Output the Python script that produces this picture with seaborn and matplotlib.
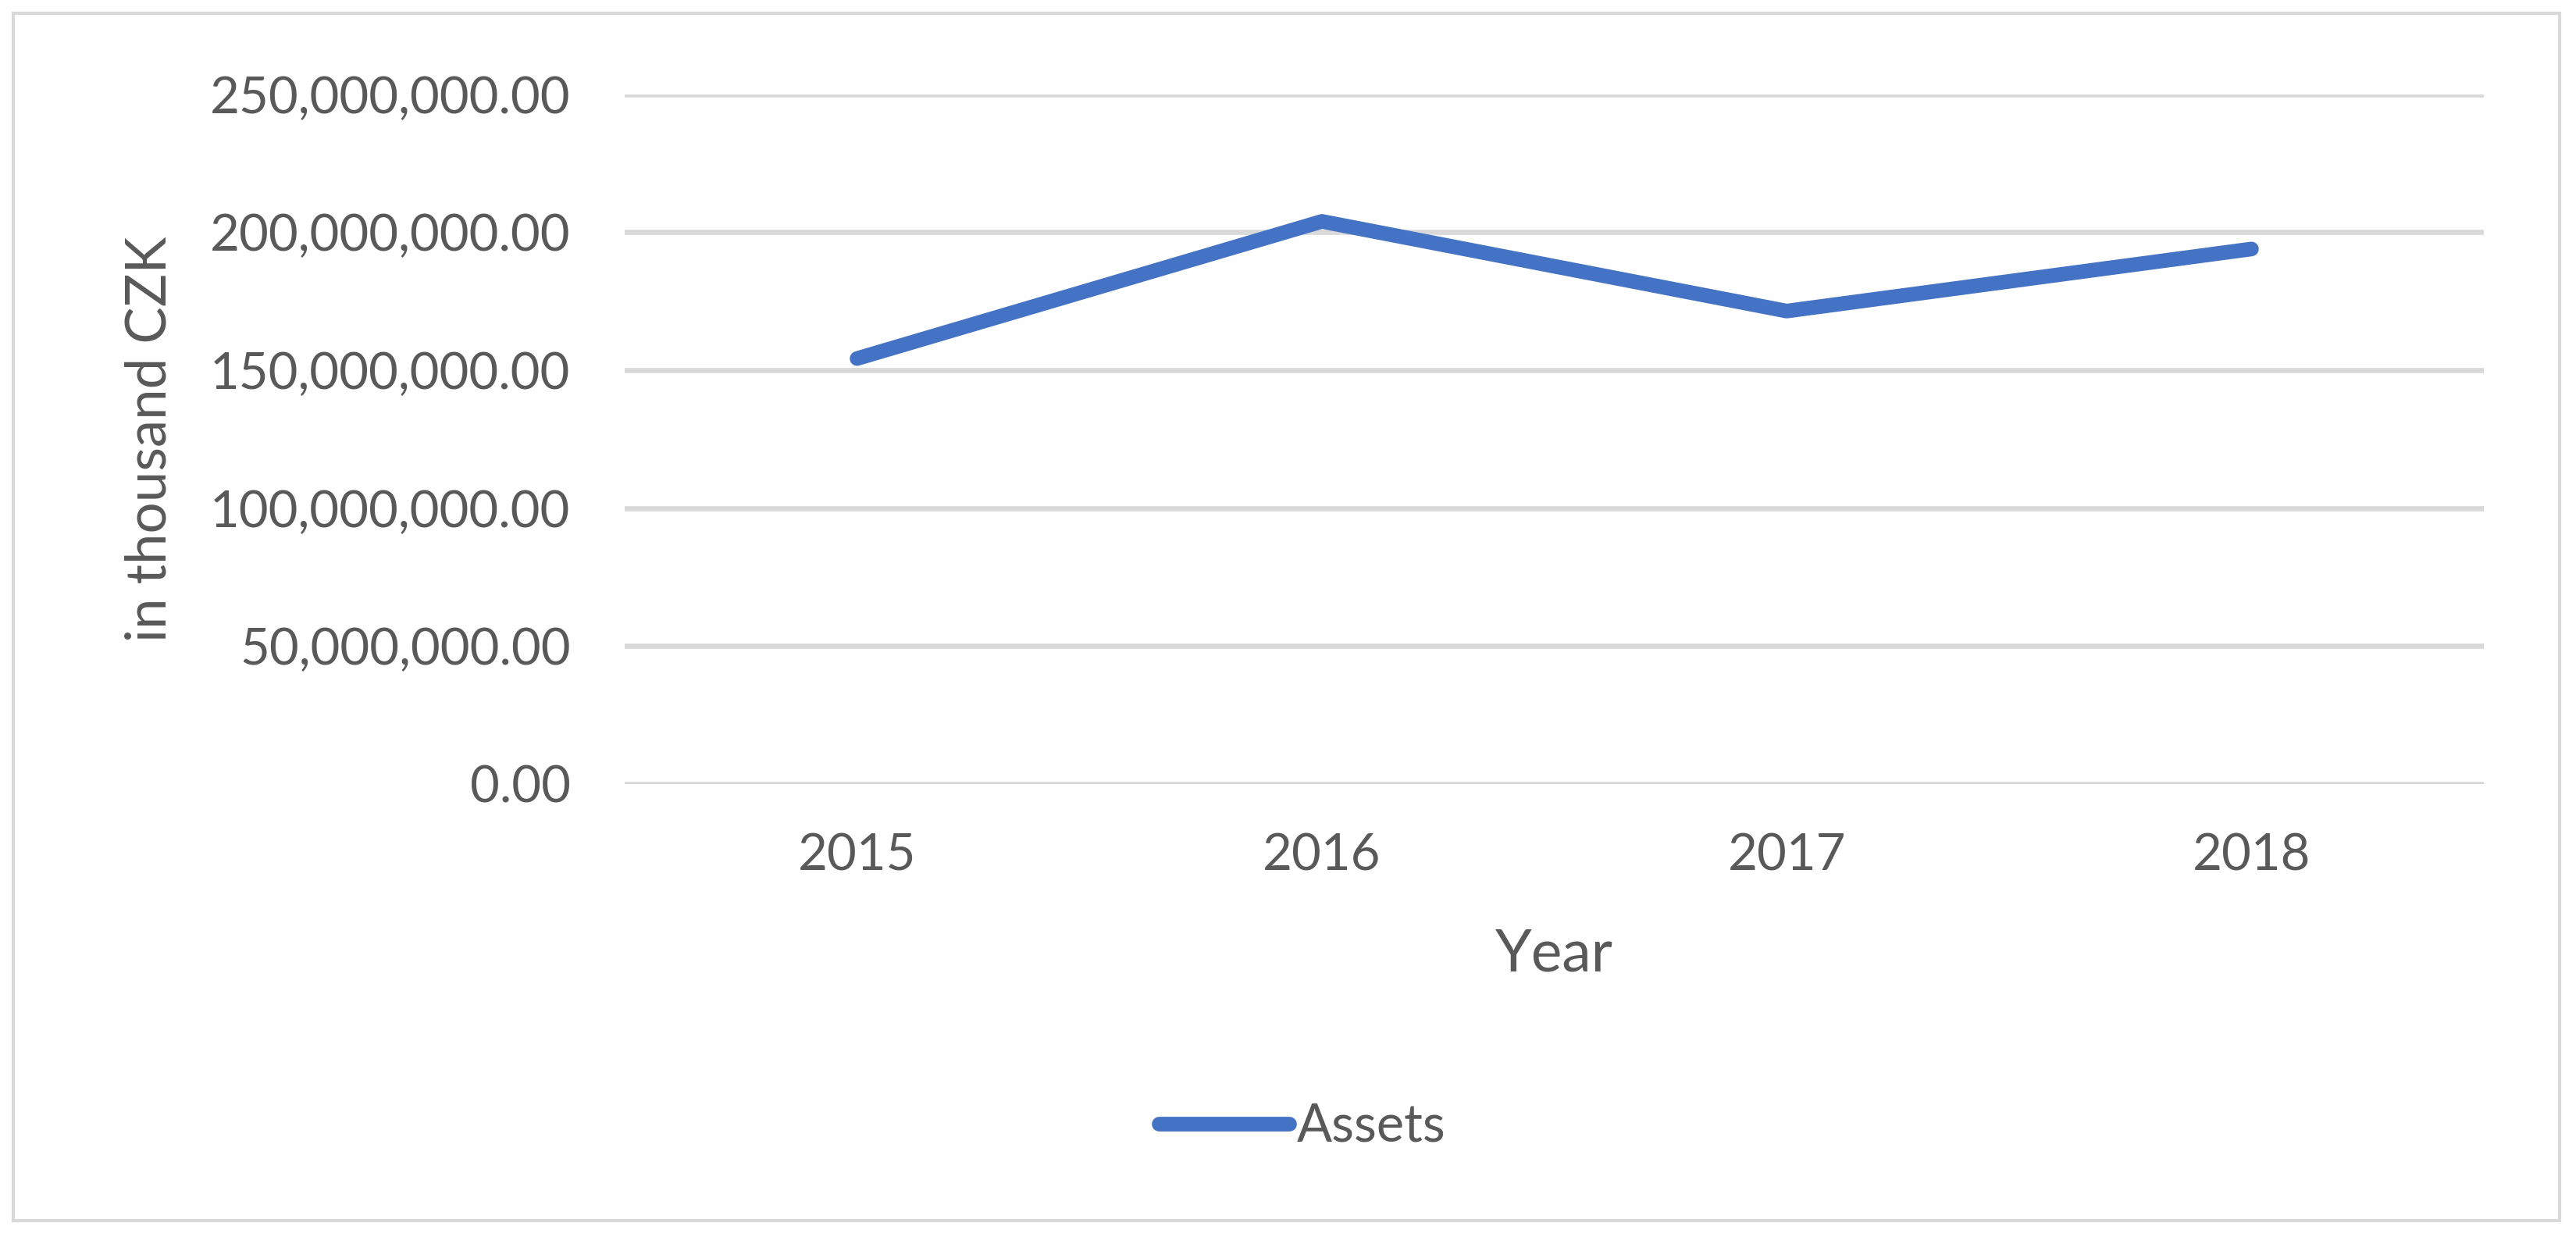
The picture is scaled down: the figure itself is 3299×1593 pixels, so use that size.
import matplotlib
matplotlib.use("Agg")
import matplotlib.pyplot as plt
import seaborn as sns
import pandas as pd
from matplotlib.patches import Rectangle
from matplotlib.lines import Line2D
from matplotlib.ticker import FuncFormatter, MultipleLocator

years = ["2015", "2016", "2017", "2018"]
assets = [154_200_000, 203_900_000, 171_400_000, 193_900_000]
series_name = "Assets"

sns.set_theme(style="white")
plt.rcParams['font.family'] = ['Lato', 'DejaVu Sans']

df = pd.DataFrame({"Year": years, "value": assets, "series": series_name})

W, H = 3299, 1593
fig = plt.figure(figsize=(W / 100, H / 100), dpi=100)
ax = fig.add_axes([800 / W, 1 - 1004 / H, (3181 - 800) / W, (1004 - 120.6) / H])

txt = "#595959"
grid = "#d9d9d9"
blue = "#4472C4"

sns.lineplot(data=df, x="Year", y="value", hue="series", palette=[blue],
             linewidth=13.5, ax=ax, legend=False, sort=False)
for ln in ax.get_lines():
    ln.set_solid_capstyle("round")
    ln.set_solid_joinstyle("round")

ax.set_xlim(-0.5, 3.5)
ax.set_ylim(0, 250_000_000)
ax.yaxis.set_major_locator(MultipleLocator(50_000_000))
ax.yaxis.set_major_formatter(FuncFormatter(lambda v, p: f"{v:,.2f}"))
ax.grid(axis="y", color=grid, linewidth=4.8)
ax.set_axisbelow(True)
for s in ax.spines.values():
    s.set_visible(False)
ax.tick_params(axis="both", length=0, labelsize=47, colors=txt)
ax.tick_params(axis="y", pad=50)
ax.tick_params(axis="x", pad=45)

ax.set_xlabel("Year", fontsize=54, color=txt, labelpad=45)
ax.set_ylabel("in thousand CZK", fontsize=51, color=txt, labelpad=32)

h = [Line2D([0], [0], color=blue, linewidth=13.5, solid_capstyle="round")]
fig.legend(h, [series_name], loc="center", bbox_to_anchor=(0.5055, 1 - 1443 / H),
           frameon=False, fontsize=48, labelcolor=txt, handlelength=2.5,
           handletextpad=0.15)

fig.patches.append(Rectangle((17 / W, 30 / H), (3278 - 17) / W, (1576 - 30) / H,
                             transform=fig.transFigure, fill=False,
                             edgecolor=grid, linewidth=3))

fig.savefig("out.png", dpi=100, facecolor="white")
